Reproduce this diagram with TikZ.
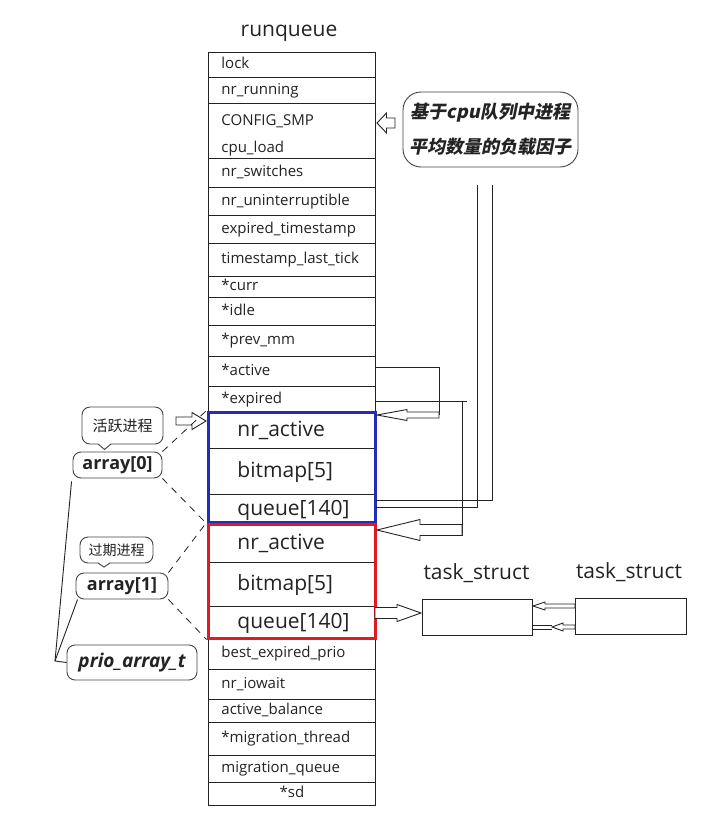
\documentclass[tikz,border=0pt]{standalone}
\usepackage{fontspec}
\setmainfont{Open Sans}
\newfontfamily\cjk{Noto Sans CJK SC}
\newfontfamily\cjksl[FakeSlant=0.2]{Noto Sans CJK SC}
\usetikzlibrary{calc,fit}
\definecolor{ink}{RGB}{35,35,35}
\definecolor{blueframe}{RGB}{35,45,185}
\definecolor{redframe}{RGB}{225,25,35}
% hollow block arrow: tip x, y, head-base x, end x, head half height, body half height
\newcommand\blockarr[6]{%
  \draw[arrowline] (#1,#2) -- (#3,#2-#5) -- (#3,#2-#6) -- (#4,#2-#6)
    -- (#4,#2+#6) -- (#3,#2+#6) -- (#3,#2+#5) -- cycle;}
\tikzset{
  cell/.style={draw=ink, line width=0.9pt, text width=141pt, inner xsep=13pt,
    inner ysep=0pt, align=left, anchor=north west, text=ink,
    font=\fontsize{15}{18}\selectfont, execute at begin node=\strut},
  bigcell/.style={cell, text width=109pt, inner xsep=29pt,
    font=\fontsize{21}{24}\selectfont, execute at begin node={},
    text height=15pt, text depth=2pt},
  conn/.style={draw=ink, line width=0.9pt},
  arrowline/.style={draw=ink, line width=0.9pt, fill=white},
  dashline/.style={draw=ink, line width=0.8pt, dash pattern=on 7pt off 6pt},
  bubble/.style={draw=ink!85, line width=0.9pt, rounded corners=8pt, inner sep=0pt, text=ink},
  tbox/.style={draw=ink, line width=0.9pt, minimum width=110pt, minimum height=36pt, inner sep=0pt},
  biglabel/.style={text=ink, font=\fontsize{21}{24}\selectfont, inner sep=0pt}
}
\begin{document}
\begin{tikzpicture}[x=1pt,y=-1pt]
\useasboundingbox (0,0) rectangle (726,814);
\fill[white] (0,0) rectangle (726,814);

% title
\node[biglabel] (title) at (289,33) {runqueue};

% runqueue fields
\node[cell, minimum height=25pt] (lock) at (208,52) {lock};
\node[cell, minimum height=26pt] (nrrun) at (208,77) {nr\_running};
\node[cell, minimum height=55pt, font=\fontsize{15}{27}\selectfont] (smp) at (208,103) {CONFIG\_SMP\\cpu\_load};
\node[cell, minimum height=29pt] (nrsw) at (208,158) {nr\_switches};
\node[cell, minimum height=28pt] (nrun) at (208,187) {nr\_uninterruptible};
\node[cell, minimum height=28pt] (expts) at (208,215) {expired\_timestamp};
\node[cell, minimum height=33pt] (tslt) at (208,243) {timestamp\_last\_tick};
\node[cell, minimum height=21pt] (curr) at (208,276) {*curr};
\node[cell, minimum height=28pt] (idle) at (208,297) {*idle};
\node[cell, minimum height=31pt] (prevmm) at (208,325) {*prev\_mm};
\node[cell, minimum height=30pt] (active) at (208,356) {*active};
\node[cell, minimum height=26pt] (expired) at (208,386) {*expired};

% array[0]
\node[bigcell, minimum height=36pt] (bnr) at (208,412) {nr\_active};
\node[bigcell, minimum height=46pt] (bbm) at (208,448) {bitmap[5]};
\node[bigcell, minimum height=29pt] (bq) at (208,494) {queue[140]};
% array[1]
\node[bigcell, minimum height=39pt] (rnr) at (208,523) {nr\_active};
\node[bigcell, minimum height=44pt] (rbm) at (208,562) {bitmap[5]};
\node[bigcell, minimum height=32pt] (rq) at (208,606) {queue[140]};

\node[cell, minimum height=31pt] (bep) at (208,638) {best\_expired\_prio};
\node[cell, minimum height=30pt] (iow) at (208,669) {nr\_iowait};
\node[cell, minimum height=23pt] (actbal) at (208,699) {active\_balance};
\node[cell, minimum height=33pt] (migth) at (208,722) {*migration\_thread};
\node[cell, minimum height=27pt] (migq) at (208,755) {migration\_queue};
\node[cell, minimum height=23pt, align=center] (sd) at (208,782) {*sd};

% coloured frames
\node[draw=blueframe, line width=3pt, inner sep=0pt, fit={(208,412)(375,522)}] (blue) {};
\node[draw=redframe, line width=3pt, inner sep=0pt, fit={(208,524)(375,638)}] (red) {};

% right callout
\node[bubble, rounded corners=18pt, minimum width=175pt, minimum height=75pt, align=center,
      font=\fontsize{18}{35}\selectfont\cjksl\bfseries] (load) at (490.5,129.5)
      {基于cpu队列中进程\\平均数量的负载因子};
\blockarr{377}{123}{386.5}{395}{10}{5}

% pointer *active -> array[0]
\coordinate (actR) at (439,367);
\draw[conn] ($(active.north east)+(0,11)$) -- (actR) -- (439,415);
\blockarr{377}{415}{407}{439}{5.5}{3}

% pointer *expired -> array[1]
\coordinate (expR) at (462,401.5);
\draw[conn] ($(expired.north east)+(0,15.5)$) -- (467,401.5);
\draw[conn] (expR) -- (462,535.5);
\blockarr{377}{530}{420}{462}{10.5}{5.5}

% lines from array[0] queue
\coordinate (vA) at (492,185);
\coordinate (vB) at (477,185);
\draw[conn] ($(bq.north east)+(0,6)$) -- (492,500) -- (vA);
\draw[conn] ($(bq.north east)+(0,13.5)$) -- (477,507.5) -- (vB);

% task_struct list
\node[biglabel] (tl1) at (476.5,573) {task\_struct};
\node[biglabel] (tl2) at (629,572) {task\_struct};
\node[tbox] (ts1) at (477,617) {};
\node[tbox, minimum width=111pt] (ts2) at (630.5,616) {};
\blockarr{421}{613}{397}{375}{8.5}{5.5}
\blockarr{533}{606}{545}{575}{4}{2}
\blockarr{552}{627}{563}{575}{4}{2}
\draw[conn] (532,625) -- (552,625);
\draw[conn] (532,629) -- (552,629);

% left callouts
\node[bubble, minimum width=81pt, minimum height=37pt, font=\fontsize{15}{18}\selectfont\cjk] (callA) at (122.5,425.5) {活跃进程};
\fill[white] (98,443) -- (104.5,449.5) -- (111,443) -- cycle;
\draw[conn, draw=ink!85] (98,444) -- (104.5,449.5) -- (111,444);
\blockarr{206}{421}{192}{176}{8.5}{4}

\node[bubble, minimum width=89pt, minimum height=26pt, font=\fontsize{18}{20}\selectfont\bfseries] (arr0) at (117.5,465) {array[0]};

\node[bubble, minimum width=73pt, minimum height=26pt, font=\fontsize{14}{16}\selectfont\cjk] (callE) at (116.5,550) {过期进程};
\fill[white] (98,562) -- (104,567) -- (110,562) -- cycle;
\draw[conn, draw=ink!85] (98,563) -- (104,567) -- (110,563);

\node[bubble, minimum width=92pt, minimum height=26pt, font=\fontsize{18}{20}\selectfont\bfseries] (arr1) at (122,586) {array[1]};

\node[bubble, minimum width=130pt, minimum height=35pt, font=\fontsize{19}{21}\selectfont\bfseries\itshape] (prio) at (132,662.5) {prio\_array\_t};

% dashed guides to the arrays
\draw[dashline] (arr0.north east) -- (blue.north west);
\draw[dashline] (arr0.south east) -- (blue.south west);
\draw[dashline] (arr1.north east) -- (red.north west);
\draw[dashline] (arr1.south east) -- (red.south west);

% links to prio_array_t
\coordinate (J) at (55,661);
\draw[conn] ($(arr0.south west)+(-1,3)$) -- (J);
\draw[conn] ($(arr1.south west)+(2,0)$) -- (J);
\draw[conn] (J) -- (prio.west);
\end{tikzpicture}
\end{document}
